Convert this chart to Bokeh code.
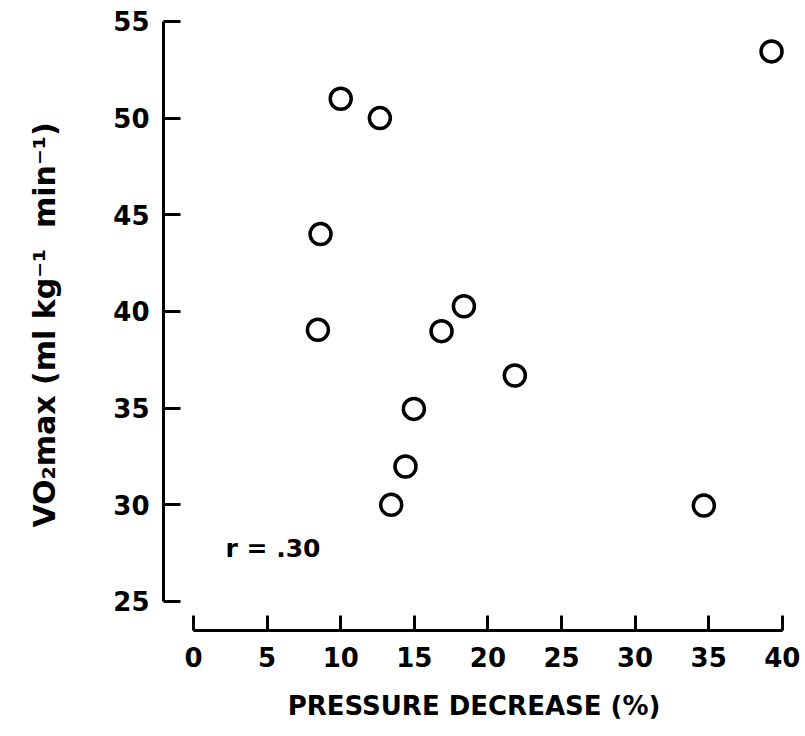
from bokeh.plotting import figure
from bokeh.models import Range1d, Label, FixedTicker
from bokeh.embed import file_html
from bokeh.resources import INLINE

pressure_decrease = [10.0, 12.66, 8.63, 8.45, 18.37, 16.85, 21.83, 14.97, 14.4, 13.43, 34.67, 39.27]
vo2max = [51.0, 50.0, 44.0, 39.05, 40.27, 38.98, 36.69, 34.96, 31.98, 30.0, 29.96, 53.45]
x_ticks = [0, 5, 10, 15, 20, 25, 30, 35, 40]
y_ticks = [25, 30, 35, 40, 45, 50, 55]
x_title = "PRESSURE DECREASE (%)"
y_title = "VO\u2082max (ml kg\u207b\u00b9\u00a0\u00a0min\u207b\u00b9)"
r_text = "r\u00a0=\u00a0.30"

FONT = "DejaVu Sans"

p = figure(width=800, height=730,
           x_range=Range1d(-2.04, 40.15), y_range=Range1d(23.5, 55.1),
           output_backend="svg", toolbar_location=None,
           min_border_left=163, min_border_right=16,
           min_border_top=19, min_border_bottom=100)
p.outline_line_color = None
p.xgrid.grid_line_color = None
p.ygrid.grid_line_color = None
p.background_fill_color = "white"
p.border_fill_color = "white"

p.scatter(pressure_decrease, vo2max, marker="circle", size=21,
          fill_color=None, line_color="black", line_width=3.5)

for ax in (p.xaxis[0], p.yaxis[0]):
    ax.axis_line_width = 3
    ax.axis_line_color = "black"
    ax.major_tick_line_width = 3
    ax.major_tick_line_color = "black"
    ax.major_tick_out = 0
    ax.minor_tick_line_color = None
    ax.major_label_text_font = FONT
    ax.major_label_text_font_style = "bold"
    ax.major_label_text_color = "black"
    ax.axis_label_text_font = FONT
    ax.axis_label_text_font_style = "bold"
    ax.axis_label_text_color = "black"

xa = p.xaxis[0]
xa.bounds = (0, 40)
xa.ticker = FixedTicker(ticks=x_ticks)
xa.major_tick_in = 15
xa.major_label_text_font_size = "26px"
xa.major_label_standoff = 16
xa.axis_label = x_title
xa.axis_label_text_font_size = "26px"
xa.axis_label_standoff = 21

ya = p.yaxis[0]
ya.bounds = (25, 55)
ya.ticker = FixedTicker(ticks=y_ticks)
ya.major_tick_in = 17
ya.major_label_text_font_size = "26px"
ya.major_label_standoff = 14
ya.axis_label = y_title
ya.axis_label_text_font_size = "30px"
ya.axis_label_standoff = 48

p.add_layout(Label(x=2.17, y=27.75, text=r_text, text_font=FONT,
                   text_font_style="bold", text_font_size="25px",
                   text_baseline="middle", text_color="black"))

open("out.html", "w").write(file_html(p, INLINE))
